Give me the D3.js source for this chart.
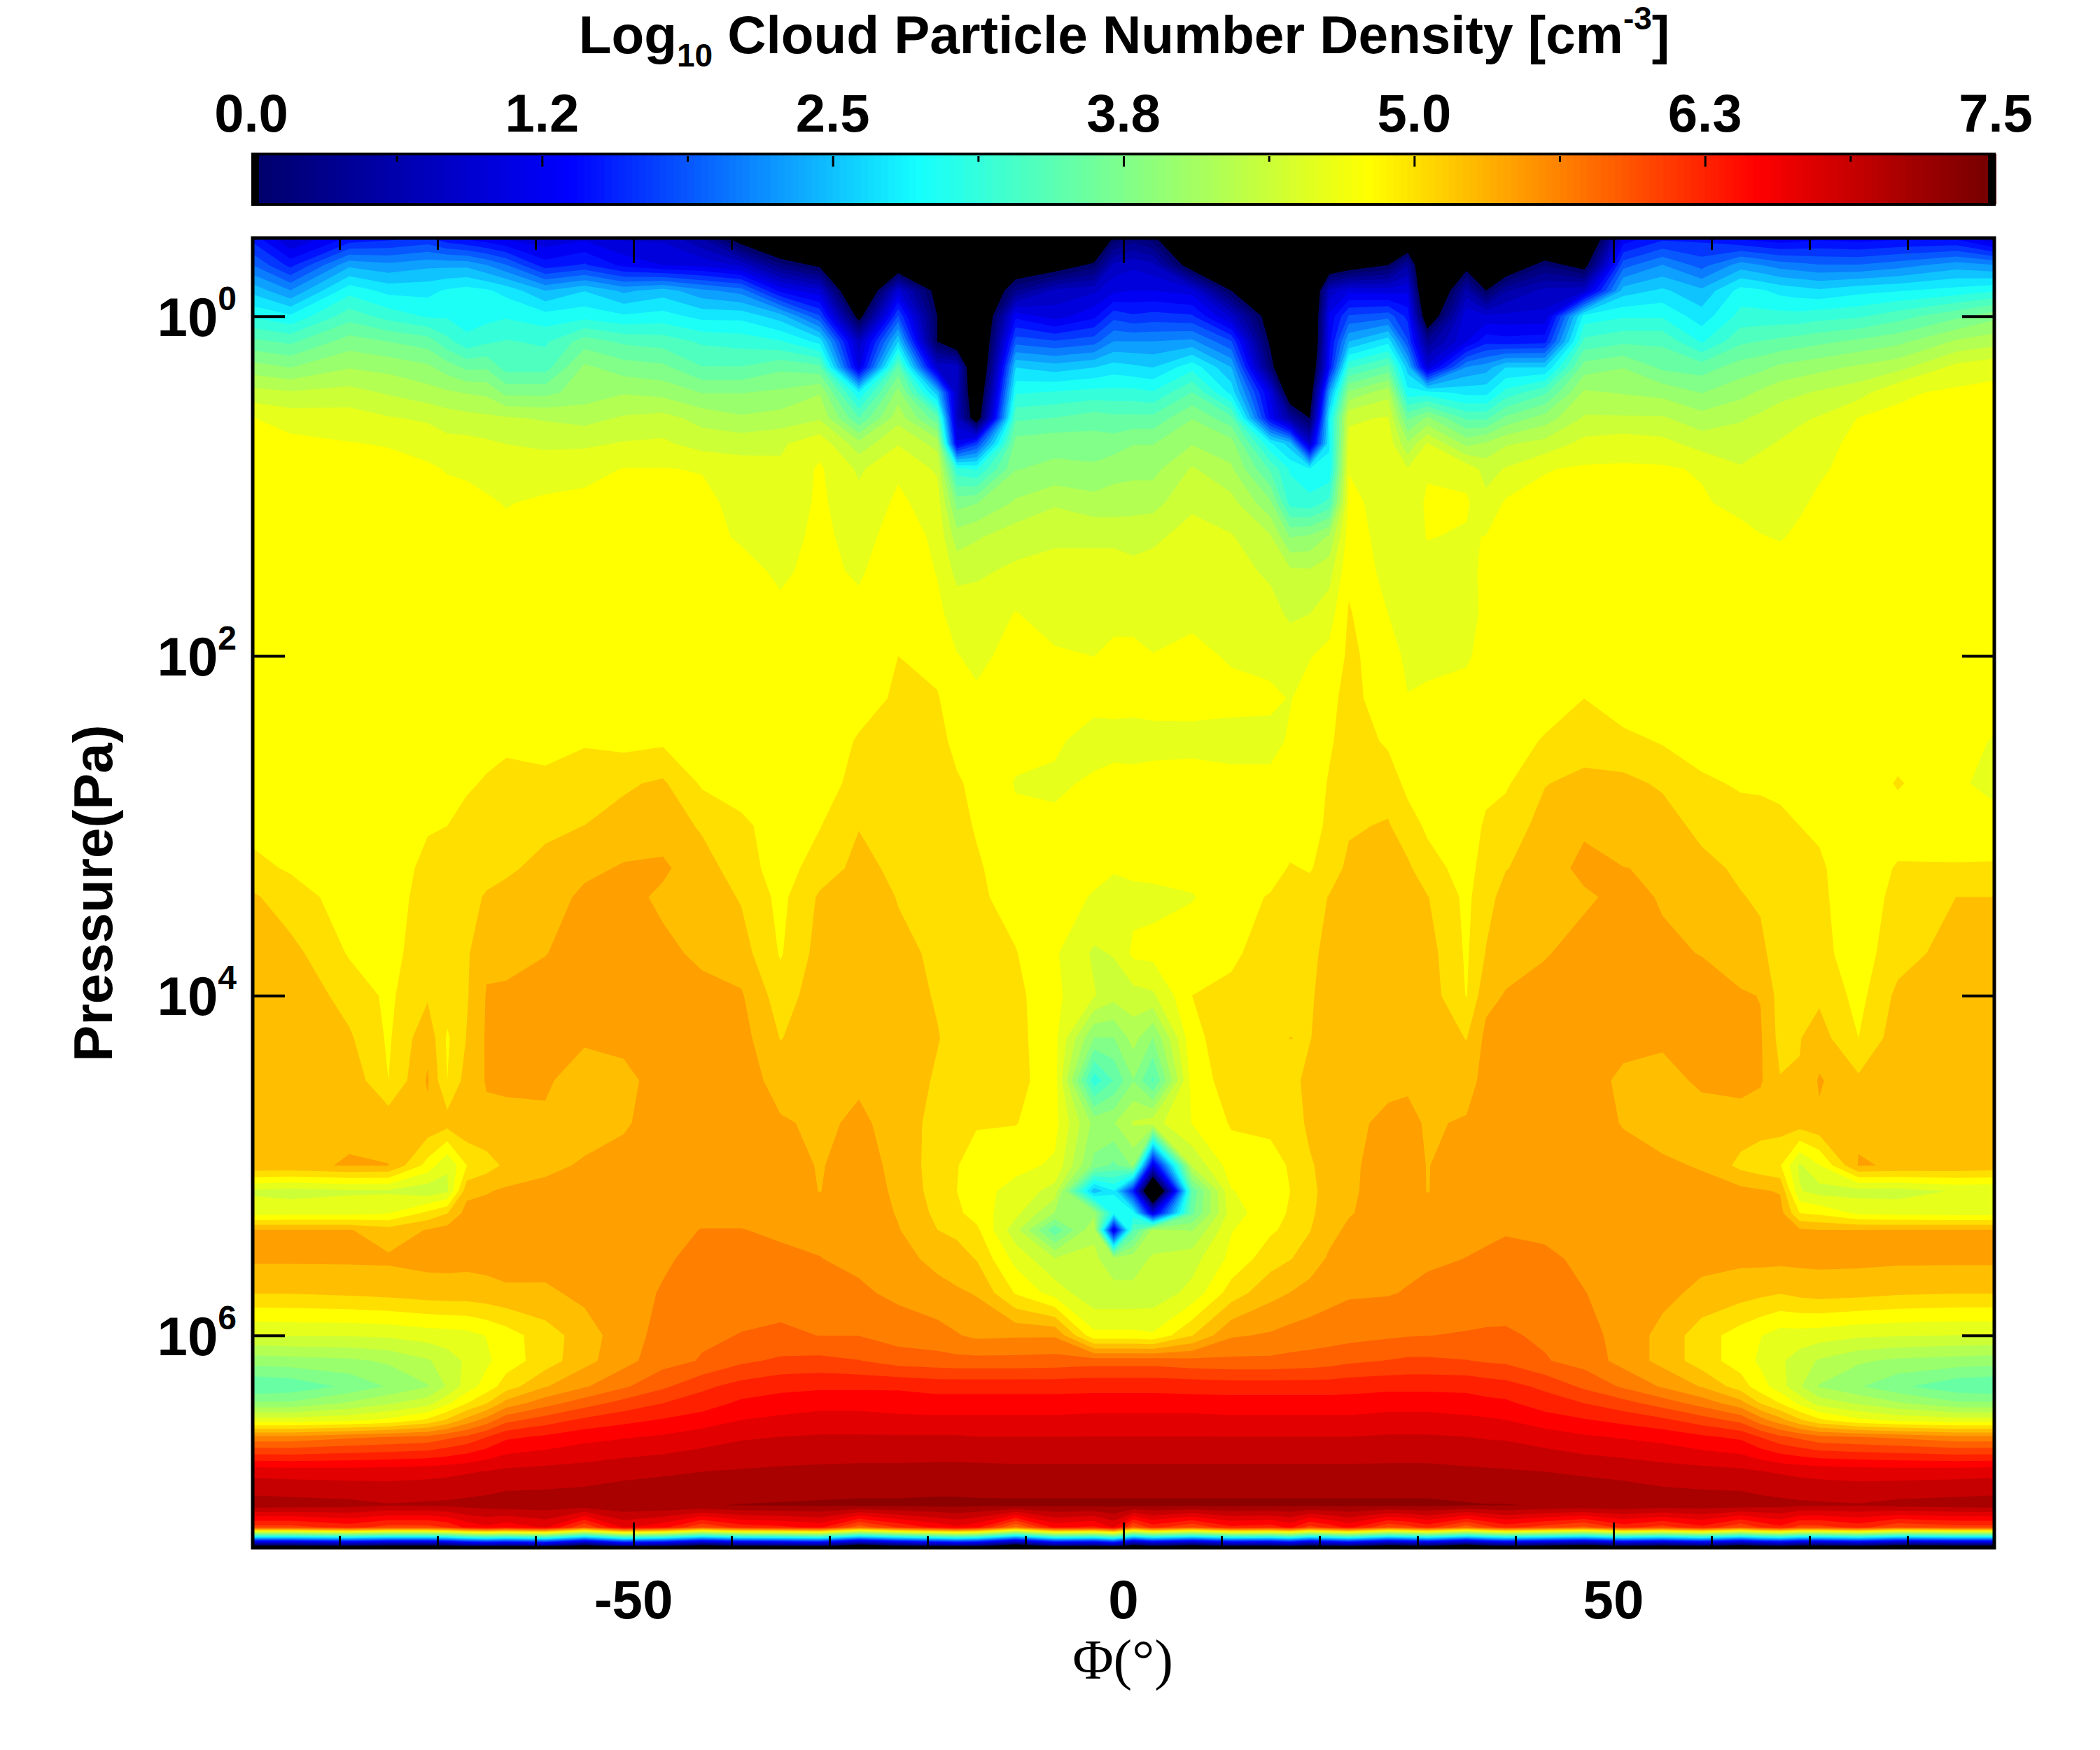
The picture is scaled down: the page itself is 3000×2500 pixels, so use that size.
<!DOCTYPE html>
<html>
<head>
<meta charset="utf-8">
<script src="https://cdn.jsdelivr.net/npm/d3@7"></script>
<style>
  body { margin: 0; background: #fff; }
  text { font-family: "Liberation Sans", sans-serif; font-weight: bold; fill: #000; }
</style>
</head>
<body>
<div id="visualization"></div>
<script>
// latitude of each column
let lats = [-89,-85,-79,-75,-71,-69,-67,-65,-63,-59,-55,-51,-47,-43,-39,-35,-31,-27,-23,-19,-17,-15,-11,-7,-3,-1,1,3,7,11,15,17,19,21,23,27,29,31,35,37,39,43,47,51,55,59,63,65,67,69,71,75,79,85,89]

// log10 pressure of each row, top to bottom
let logP = [-0.46,-0.3,-0.15,0,0.15,0.3,0.45,0.6,0.75,0.9,1.1,1.3,1.5,1.75,2,2.25,2.5,2.75,3,3.25,3.42,3.75,4,4.25,4.5,4.75,5,5.15,5.28,5.38,5.55,5.75,6,6.15,6.3,6.4,6.5,6.6,6.8,7,7.13,7.25]

// log10 number density, one line per latitude (negative = black, below the scale)
let density = [
[1.6,2.1,2.65,3.1,3.6,4.05,4.45,4.8,4.85,4.85,4.85,4.87,4.87,4.88,4.88,4.87,4.88,4.9,4.95,5.05,5.25,5.35,5.38,5.38,5.38,5.38,5.38,4.55,4.7,5.43,5.45,5.22,4.58,4.05,3.55,4,4.7,5.7,6.8,7.2,6.15,-0.8],
[1,1.6,2.3,2.95,3.5,3.95,4.4,4.7,4.85,4.85,4.85,4.86,4.86,4.87,4.87,4.87,4.88,4.88,4.92,4.98,5.08,5.28,5.38,5.38,5.38,5.38,5.38,4.5,4.72,5.43,5.45,5.22,4.6,4.08,3.6,4,4.7,5.7,6.78,7.18,6.15,-0.8],
[1.5,2.45,3.05,3.45,3.85,4.15,4.45,4.68,4.8,4.85,4.85,4.85,4.85,4.86,4.86,4.86,4.86,4.86,4.86,4.88,4.92,4.98,5.12,5.24,5.36,5.38,5.43,4.55,4.72,5.43,5.45,5.25,4.6,4.12,3.8,4.2,4.75,5.8,6.77,7.15,6.33,-0.62],
[1.6,2.35,2.85,3.25,3.75,4.1,4.35,4.6,4.78,4.85,4.85,4.85,4.85,4.85,4.85,4.85,4.86,4.86,4.87,4.88,4.92,4.94,4.96,4.97,5,5.35,5.42,4.55,4.78,5.3,5.45,5.28,4.62,4.2,3.98,4.35,4.85,5.85,6.78,7.1,6.15,-0.8],
[1.7,2.45,2.85,3.1,3.65,4,4.25,4.55,4.72,4.82,4.85,4.85,4.85,4.85,4.85,4.85,4.86,4.9,4.98,5.06,5.07,5.1,5.18,5.36,5.44,5.36,4.92,4.45,5.05,5.43,5.48,5.32,4.68,4.35,4.15,4.5,5.05,5.9,6.8,7.12,6.15,-0.8],
[1.5,2.45,2.95,3.1,3.4,3.85,4.2,4.48,4.65,4.78,4.85,4.85,4.85,4.85,4.85,4.85,4.87,4.92,5,5.1,5.12,5.12,5.1,4.97,5,5.3,4.6,4.55,5.2,5.5,5.48,5.33,4.7,4.48,4.4,4.75,5.25,6,6.82,7.13,6.26,-0.69],
[1.4,2.45,3,3,3.2,3.7,4.15,4.45,4.65,4.76,4.85,4.85,4.85,4.85,4.85,4.85,4.88,4.96,5.1,5.15,5.17,5.18,5.19,5.22,5.3,5.38,5,5.35,5.5,5.55,5.47,5.33,4.72,4.62,4.68,5,5.5,6.1,6.85,7.15,6.51,-0.44],
[1.3,2.3,2.95,3.05,3.3,3.72,4.12,4.42,4.62,4.72,4.82,4.85,4.85,4.85,4.85,4.86,4.9,5.03,5.12,5.17,5.22,5.38,5.43,5.44,5.43,5.38,5.12,5.4,5.5,5.56,5.48,5.35,4.8,4.75,4.88,5.2,5.72,6.25,6.88,7.17,6.62,-0.33],
[1.2,2.1,2.85,3.1,3.35,3.45,3.9,4.4,4.58,4.68,4.78,4.85,4.85,4.85,4.86,4.88,4.96,5.06,5.15,5.18,5.26,5.3,5.48,5.5,5.44,5.38,5.25,5.45,5.52,5.58,5.5,5.38,4.9,4.9,5.1,5.5,5.98,6.42,6.92,7.2,6.51,-0.44],
[1.1,1.55,2.5,3,3.3,3.45,3.9,4.35,4.55,4.68,4.83,4.85,4.85,4.85,4.86,4.87,4.93,5.05,5.17,5.26,5.3,5.41,5.5,5.52,5.45,5.38,5.35,5.5,5.55,5.58,5.52,5.37,5.12,5.1,5.4,5.75,6.15,6.5,6.95,7.2,6.69,-0.26],
[1.2,1.7,2.7,3.05,3.65,4,4.05,4.3,4.55,4.72,4.85,4.85,4.85,4.86,4.87,4.88,4.99,5.05,5.21,5.36,5.47,5.5,5.52,5.45,5.3,5.3,5.45,5.52,5.56,5.58,5.55,5.48,5.3,5.35,5.6,5.95,6.3,6.6,6.97,7.22,6.04,-0.91],
[1,1.4,2.45,2.95,3.5,3.85,4.15,4.4,4.6,4.8,4.85,4.85,4.85,4.85,4.85,4.88,4.93,5.18,5.28,5.44,5.48,5.52,5.52,5.5,5.33,5.38,5.52,5.55,5.57,5.59,5.58,5.55,5.55,5.55,5.8,6.12,6.4,6.65,7.02,7.25,6.69,-0.26],
[1,1.25,2.6,3,3.45,3.8,4.1,4.45,4.62,4.8,4.85,4.85,4.85,4.85,4.86,4.88,4.96,5.24,5.33,5.45,5.38,5.46,5.5,5.52,5.55,5.56,5.56,5.57,5.57,5.58,5.6,5.64,5.68,5.75,6,6.25,6.48,6.7,7.05,7.27,6.51,-0.44],
[0.6,1.2,2.35,2.85,3.3,3.55,3.95,4.3,4.5,4.78,4.85,4.85,4.85,4.85,4.85,4.86,4.87,4.97,5.18,5.3,5.33,5.38,5.47,5.52,5.55,5.56,5.56,5.57,5.58,5.63,5.68,5.74,5.8,5.85,6.2,6.36,6.56,6.78,7.08,7.28,6.04,-0.91],
[-0.3,1,2.2,2.85,3.25,3.55,3.95,4.2,4.5,4.68,4.72,4.77,4.85,4.85,4.85,4.85,4.85,4.87,5.06,5.1,5.19,5.3,5.44,5.5,5.53,5.55,5.56,5.57,5.58,5.63,5.7,5.76,5.84,6,6.33,6.5,6.67,6.85,7.1,7.3,6.33,-0.62],
[-1,0.3,1.4,2.6,3.15,3.7,4,4.25,4.55,4.62,4.65,4.7,4.76,4.83,4.87,4.85,4.85,4.85,4.87,4.9,4.94,4.98,5.1,5.2,5.33,5.44,5.52,5.55,5.58,5.6,5.66,5.75,5.87,6.08,6.4,6.55,6.72,6.88,7.12,7.31,6.4,-0.55],
[-1,-0.1,1.1,1.9,2.85,3.6,4.15,4.35,4.72,4.82,4.83,4.85,4.85,4.85,4.85,4.86,4.88,4.92,4.99,5.1,5.24,5.29,5.33,5.33,5.35,5.38,5.4,5.41,5.5,5.58,5.63,5.72,5.83,6.1,6.42,6.6,6.75,6.9,7.13,7.32,6.51,-0.44],
[-1,-1,-1,-0.2,0.9,1.2,2.95,3.55,4.25,4.55,4.65,4.7,4.76,4.85,4.95,4.92,5.02,5.06,5.2,5.27,5.32,5.35,5.37,5.38,5.39,5.45,5.52,5.55,5.56,5.56,5.58,5.66,5.83,6.05,6.42,6.6,6.75,6.9,7.14,7.33,5.9,-1.05],
[-1,-0.5,1.1,1.9,2.7,3.6,4.05,4.3,4.57,4.76,4.83,4.9,4.95,4.98,5,5.03,5.06,5.08,5.12,5.16,5.2,5.25,5.3,5.33,5.34,5.35,5.35,5.37,5.4,5.43,5.5,5.58,5.74,5.95,6.42,6.58,6.72,6.9,7.14,7.33,6.26,-0.69],
[-1,-1,-0.2,0,0,1,2.6,3.6,4.3,4.55,4.7,4.75,4.78,4.84,4.92,5.02,5.08,5.12,5.14,5.16,5.17,5.18,5.19,5.22,5.18,5.12,5.11,5.12,5.16,5.21,5.35,5.5,5.7,5.92,6.38,6.55,6.72,6.9,7.15,7.34,6.51,-0.44],
[-1,-1,-1,-1,-0.5,1,0.9,0.9,1.3,3.2,3.88,4.27,4.52,4.7,4.8,4.85,4.93,5.03,5.07,5.1,5.12,5.12,5.13,5.14,5.12,5.05,5.01,5,5.05,5.17,5.28,5.45,5.64,5.9,6.38,6.55,6.72,6.9,7.15,7.34,6.62,-0.33],
[-1,-1,-1,-1,-1,-1,-0.7,-0.4,1.8,3.1,3.95,4.35,4.55,4.68,4.75,4.82,4.85,4.94,4.98,5.03,5.04,5.03,5.03,5.02,5.01,5.02,4.9,4.87,4.9,5.05,5.2,5.4,5.58,5.9,6.38,6.55,6.72,6.88,7.15,7.33,6.51,-0.44],
[-1,-0.5,0.4,1.4,2,2.7,3.1,3.5,3.85,3.95,4.2,4.5,4.62,4.8,4.85,4.82,4.85,4.78,4.83,4.87,4.92,5.01,5.06,5.07,5.07,5.01,4.85,4.72,4.65,4.45,4.72,4.98,5.6,5.9,6.38,6.55,6.72,6.88,7.14,7.33,5.79,-1.16],
[-1,-0.3,0.9,1.15,1.9,2.6,3.15,3.55,3.9,4,4.35,4.55,4.65,4.7,4.82,4.85,4.82,4.76,4.83,4.85,4.85,4.82,4.84,4.85,4.88,4.86,4.76,4.5,4.15,3.6,4.4,4.7,5.6,5.92,6.38,6.55,6.72,6.88,7.14,7.33,6.51,-0.44],
[-1,0.1,1,1.4,2,2.7,3.2,3.65,3.85,4,4.25,4.55,4.65,4.72,4.79,4.85,4.72,4.82,4.85,4.83,4.78,4.55,4.6,3.95,3.2,4.1,3.9,2.55,4.1,4.35,4.4,4.42,4.85,5.95,6.4,6.55,6.75,6.88,7.14,7.33,6.4,-0.55],
[0.05,0.9,1.2,1.8,2.3,2.8,3.2,3.6,3.85,4.1,4.25,4.55,4.65,4.72,4.85,4.85,4.73,4.85,4.85,4.81,4.72,4.6,4.45,3.95,3.55,4.15,3.7,2.9,3,1.2,4.3,4.42,4.85,5.95,6.4,6.55,6.75,6.88,7.14,7.33,6.69,-0.26],
[0.3,1,1.25,1.7,2.3,2.75,3.2,3.6,3.95,4.1,4.3,4.5,4.65,4.72,4.85,4.85,4.72,4.85,4.86,4.85,4.72,4.84,4.5,4.25,3.95,4.4,4,1.6,3,3.5,4.3,4.42,4.85,5.95,6.4,6.55,6.75,6.88,7.14,7.33,5.97,-0.98],
[0.1,0.9,1.25,1.75,2.3,2.7,3.15,3.6,3.95,4.1,4.3,4.55,4.65,4.68,4.8,4.85,4.74,4.85,4.85,4.85,4.74,4.85,4.55,3.95,3.5,4.5,1.2,-1.5,1.2,4.25,4.4,4.45,4.82,5.95,6.4,6.55,6.75,6.88,7.14,7.33,6.33,-0.62],
[-1,-0.3,1.15,1.7,2.35,3.05,3.55,3.95,4.15,4.4,4.55,4.65,4.7,4.75,4.84,4.84,4.75,4.85,4.86,4.86,4.78,4.9,5,4.95,4.88,4.8,4.4,3.6,3.7,4.15,4.5,4.65,5.2,5.9,6.38,6.55,6.75,6.88,7.14,7.33,6.04,-0.91],
[-1,-1,0,1,1.9,2.5,2.85,3.6,4.05,4.2,4.45,4.6,4.65,4.73,4.77,4.85,4.72,4.85,4.87,4.88,4.9,4.96,5.05,5.1,5.1,5.02,4.9,4.78,4.7,4.78,4.85,5.1,5.6,5.88,6.36,6.55,6.72,6.88,7.14,7.33,6.4,-0.55],
[-1,-1,-1,-0.3,-0.1,0.2,1.2,1.4,2.95,3.5,4,4.4,4.55,4.65,4.72,4.84,4.72,4.85,4.86,4.9,5.02,5.1,5.15,5.18,5.18,5.05,4.92,4.9,4.92,4.97,5.12,5.35,5.65,5.88,6.36,6.55,6.72,6.88,7.14,7.33,6.33,-0.62],
[-1,-1,-1,-1,-1,-1,-0.5,0.6,2.6,3.1,3.25,3.95,4.42,4.55,4.7,4.78,4.82,4.87,4.88,5.02,5.06,5.12,5.16,5.21,5.15,5.08,5.02,5,5.02,5.05,5.2,5.42,5.7,5.9,6.36,6.55,6.72,6.88,7.14,7.33,6.51,-0.44],
[-1,-1,-1,-1,-1,-0.7,-0.4,0,1,2.95,3.2,4,4.4,4.58,4.78,4.88,4.88,4.88,4.88,4.98,5.1,5.15,5.18,5.2,5.26,5.26,5.18,5.16,5.18,5.2,5.3,5.5,5.72,5.92,6.36,6.55,6.72,6.88,7.14,7.33,6.15,-0.8],
[-1,-0.5,0.9,1.3,1.4,1.5,2.4,2.9,2.9,2.95,3.4,4.2,4.5,4.7,4.85,4.95,4.97,5.02,5.06,5.1,5.22,5.28,5.3,5.3,5.33,5.38,5.3,5.28,5.28,5.35,5.45,5.56,5.74,5.95,6.36,6.55,6.72,6.88,7.14,7.33,6.33,-0.62],
[-1,-0.3,1.2,1.9,2.5,3.3,4,4.55,4.65,4.78,4.85,4.9,4.95,5.02,5.04,5.06,5.1,5.13,5.18,5.26,5.28,5.32,5.33,5.34,5.36,5.38,5.38,5.38,5.4,5.46,5.54,5.6,5.76,6,6.38,6.55,6.72,6.88,7.14,7.33,6.51,-0.44],
[-1,0,1.15,2,2.85,3.6,4.3,4.6,4.72,4.75,4.7,4.7,4.72,4.79,4.9,4.9,4.97,5.1,5.23,5.28,5.32,5.35,5.36,5.37,5.38,5.45,5.5,5.52,5.52,5.5,5.56,5.61,5.8,6.05,6.4,6.58,6.75,6.9,7.14,7.33,6.04,-0.91],
[-0.7,0.6,1.2,1.6,1.9,2.6,3,3.7,4.2,4.6,4.68,4.7,4.7,4.72,4.74,4.8,4.86,4.95,5.08,5.25,5.3,5.33,5.35,5.36,5.38,5.48,5.5,5.52,5.53,5.54,5.57,5.64,5.82,6.08,6.4,6.58,6.75,6.9,7.14,7.33,6.15,-0.8],
[-1,-1,-1,-0.5,0.5,1.1,3,4,4.6,4.77,4.82,4.8,4.72,4.72,4.75,4.82,4.85,4.86,4.97,5.07,5.22,5.3,5.33,5.35,5.38,5.39,5.41,5.41,5.48,5.53,5.58,5.7,5.83,6.08,6.4,6.58,6.75,6.9,7.14,7.33,6.33,-0.62],
[-1,-0.2,0.7,1.2,1.25,2.3,2.85,3.5,4.1,4.72,4.82,4.77,4.72,4.7,4.77,4.85,4.88,4.9,4.9,4.93,4.95,4.97,4.99,5.2,5.32,5.44,5.5,5.52,5.54,5.56,5.63,5.7,5.85,6.05,6.4,6.55,6.72,6.88,7.12,7.31,5.9,-1.05],
[-1,-0.2,0,1.1,1.6,2.4,2.85,3.5,4.2,4.5,4.65,4.8,4.85,4.85,4.85,4.87,4.88,4.95,5.03,5.08,5.14,5.22,5.36,5.47,5.5,5.52,5.54,5.55,5.56,5.58,5.66,5.72,5.86,6.02,6.36,6.52,6.7,6.86,7.11,7.3,6.15,-0.8],
[-1,-0.5,0.6,1.1,1.55,2.7,3.2,3.8,4.35,4.6,4.82,4.85,4.85,4.85,4.85,4.87,4.9,4.97,5.1,5.2,5.28,5.34,5.43,5.5,5.52,5.54,5.55,5.56,5.57,5.61,5.68,5.74,5.86,6,6.33,6.5,6.67,6.85,7.1,7.3,6.33,-0.62],
[-1,0.2,0.9,1.1,1.6,2.7,3.5,4.05,4.45,4.78,4.85,4.85,4.85,4.86,4.86,4.9,5.02,5.2,5.28,5.3,5.33,5.4,5.5,5.52,5.54,5.55,5.55,5.56,5.58,5.59,5.66,5.72,5.8,5.85,6.2,6.36,6.56,6.78,7.08,7.28,6.15,-0.8],
[-1,-0.2,1,3,3.4,3.85,4.2,4.4,4.65,4.82,4.85,4.85,4.85,4.85,4.86,5,5.12,5.26,5.38,5.48,5.38,5.5,5.52,5.53,5.54,5.55,5.56,5.56,5.57,5.57,5.59,5.63,5.7,5.75,6,6.25,6.48,6.7,7.05,7.27,5.97,-0.98],
[1.3,2,2.6,3.1,3.5,3.95,4.15,4.4,4.7,4.82,4.85,4.85,4.85,4.85,4.86,4.87,5.06,5.26,5.32,5.42,5.48,5.5,5.52,5.5,5.36,5.4,5.52,5.53,5.54,5.55,5.56,5.56,5.55,5.55,5.8,6.12,6.4,6.65,7.02,7.25,6.33,-0.62],
[1.6,2.3,2.75,3.1,3.5,3.7,4.1,4.4,4.65,4.82,4.85,4.85,4.85,4.85,4.85,4.86,4.98,5.18,5.3,5.4,5.4,5.45,5.5,5.45,5.35,5.33,5.45,5.52,5.54,5.55,5.55,5.48,5.35,5.35,5.6,5.95,6.3,6.6,6.97,7.22,6.15,-0.8],
[1.6,2,2.55,2.8,3.1,3.65,3.95,4.25,4.5,4.77,4.82,4.85,4.85,4.85,4.85,4.85,4.92,5.03,5.15,5.27,5.31,5.41,5.5,5.52,5.45,5.33,5.4,5.48,5.52,5.55,5.48,5.36,5.1,5.1,5.4,5.75,6.15,6.5,6.95,7.2,6.4,-0.55],
[1.4,2.4,3,3.2,3.5,3.85,4.1,4.35,4.5,4.6,4.72,4.87,4.87,4.85,4.85,4.85,4.85,4.98,5.07,5.17,5.22,5.3,5.44,5.5,5.48,5.33,5.15,5.48,5.5,5.55,5.46,5.3,4.9,4.9,5.1,5.5,5.98,6.42,6.92,7.2,6.04,-0.91],
[1.35,2.3,2.95,3.2,3.55,3.9,4.2,4.42,4.55,4.65,4.72,4.8,4.87,4.86,4.85,4.85,4.85,4.98,5.05,5.12,5.18,5.26,5.41,5.44,5.44,5.3,5.08,5.44,5.5,5.55,5.47,5.26,4.8,4.75,4.88,5.2,5.72,6.25,6.88,7.17,6.26,-0.69],
[1.3,2.2,2.85,3.2,3.6,4,4.3,4.5,4.6,4.7,4.72,4.78,4.87,4.86,4.86,4.86,4.86,4.98,5.02,5.05,5.08,5.1,5.12,5.14,5.22,5.3,5.02,5.4,5.5,5.55,5.47,5.22,4.7,4.62,4.68,5,5.5,6.1,6.85,7.15,6.4,-0.55],
[1.35,2.15,2.8,3.2,3.65,4.05,4.35,4.55,4.66,4.74,4.77,4.82,4.86,4.85,4.85,4.85,4.85,4.9,5,5.04,5.06,5.08,5.14,5.2,5.22,5.32,4.55,4.6,5,5.45,5.47,5.27,4.7,4.48,4.4,4.75,5.25,6,6.82,7.13,6.15,-0.8],
[1.4,2.1,2.75,3.25,3.7,4.1,4.4,4.6,4.72,4.77,4.82,4.85,4.85,4.85,4.85,4.85,4.85,4.86,4.97,5.03,5.04,5.06,5.17,5.3,5.44,5.38,4.78,4.5,4.95,5.42,5.47,5.3,4.68,4.35,4.15,4.5,5.05,5.9,6.8,7.12,6.15,-0.8],
[1.35,2.1,2.85,3.3,3.8,4.2,4.5,4.8,4.85,4.85,4.85,4.85,4.85,4.85,4.85,4.85,4.85,4.85,4.86,4.87,4.88,4.9,4.93,5,5.25,5.38,5.43,4.5,4.75,5.42,5.47,5.28,4.62,4.2,3.98,4.35,4.85,5.85,6.78,7.1,6.33,-0.62],
[1.4,2.2,2.9,3.45,3.9,4.3,4.76,4.83,4.85,4.85,4.85,4.85,4.85,4.85,4.85,4.85,4.9,5.02,4.9,5.02,5.06,5.12,5.26,5.33,5.36,5.38,5.4,4.5,4.72,5.43,5.46,5.24,4.6,4.12,3.8,4.2,4.75,5.8,6.77,7.15,6.04,-0.91],
[1.4,2.4,3,3.7,4.2,4.65,4.83,4.85,4.85,4.85,4.85,4.85,4.86,4.86,4.86,4.86,4.84,4.84,4.88,5.02,5.21,5.3,5.35,5.37,5.38,5.38,5.38,4.6,4.7,5.43,5.46,5.22,4.58,4.08,3.6,4,4.7,5.7,6.78,7.18,6.15,-0.8],
[1,2.3,3.1,3.9,4.3,4.73,4.85,4.85,4.85,4.85,4.85,4.85,4.86,4.86,4.86,4.86,4.78,4.7,4.9,5.02,5.21,5.3,5.36,5.38,5.38,5.38,5.35,4.6,4.7,5.43,5.46,5.22,4.58,4.05,3.55,4,4.7,5.7,6.8,7.2,6.15,-0.8]
]

// tick values and labels
let xMajor = [-50, 0, 50]
let xMinor = [-80, -70, -60, -40, -30, -20, -10, 10, 20, 30, 40, 60, 70, 80]
let yTicks = [0, 2, 4, 6]
let barMajor = [0, 1.25, 2.5, 3.75, 5, 6.25, 7.5]
let barLabels = ["0.0", "1.2", "2.5", "3.8", "5.0", "6.3", "7.5"]
let barMinor = [0.625, 1.875, 3.125, 4.375, 5.625, 6.875]

// set the dimensions of the graph
var plot = {left: 359, right: 2851, top: 340, bottom: 2211}
var bar = {top: 220, bottom: 292}

var svg = d3.select("#visualization")
  .append("svg")
    .attr("width", 3000)
    .attr("height", 2500)

var x = d3.scaleLinear().domain([-89, 89]).range([plot.left, plot.right])
var y = d3.scaleLinear().domain([-0.46, 7.25]).range([plot.top, plot.bottom])
var barX = d3.scaleLinear().domain([0, 7.5]).range([plot.left, plot.right])

// 36 filled levels, jet like colour table
var levels = d3.range(36).map(k => k * 7.5 / 36)
var color = d3.scaleLinear()
    .domain([0, 1.35, 2.85, 4.79, 6.46, 7.5])
    .range(["#00006a", "#0000ff", "#14ffff", "#ffff00", "#ff0000", "#700000"])
    .clamp(true)

// grid index -> data coordinates, the grid is not evenly spaced
var colToLat = d3.scaleLinear().domain(d3.range(lats.length)).range(lats).clamp(true)
var rowToLog = d3.scaleLinear().domain(d3.range(logP.length)).range(logP).clamp(true)

density.forEach((col, i) => {
  if (col.length != logP.length) throw new Error("column " + lats[i] + " has " + col.length)
})
if (density.length != lats.length) throw new Error("columns " + density.length)

// d3.contours wants a flat array, row after row
var flat = []
logP.forEach((p, r) => lats.forEach((lat, c) => flat.push(density[c][r])))

var contours = d3.contours()
    .size([lats.length, logP.length])
    .thresholds(levels)(flat)

var path = d3.geoPath(d3.geoTransform({
  point: function(px, py) {
    this.stream.point(x(colToLat(px - 0.5)), y(rowToLog(py - 0.5)))
  }
}))

// black underneath, everything below the scale stays black
svg.append("rect")
    .attr("x", plot.left).attr("y", plot.top)
    .attr("width", plot.right - plot.left).attr("height", plot.bottom - plot.top)
    .attr("fill", "black")

svg.append("g")
  .selectAll("path")
  .data(contours)
  .join("path")
    .attr("d", path)
    .attr("fill", d => color(d.value))

// frame
svg.append("rect")
    .attr("x", plot.left + 2).attr("y", plot.top)
    .attr("width", plot.right - plot.left - 4).attr("height", plot.bottom - plot.top)
    .attr("fill", "none").attr("stroke", "black").attr("stroke-width", 5)

function styleAxis(g, width) {
  g.select(".domain").remove()
  g.selectAll("line").attr("stroke", "black").attr("stroke-width", width)
}

// x ticks point inwards on both sides
svg.append("g").attr("transform", `translate(0,${plot.bottom})`)
    .call(d3.axisTop(x).tickValues(xMajor).tickSize(36).tickFormat(""))
    .call(styleAxis, 3)
svg.append("g").attr("transform", `translate(0,${plot.bottom})`)
    .call(d3.axisTop(x).tickValues(xMinor).tickSize(17).tickFormat(""))
    .call(styleAxis, 3)
svg.append("g").attr("transform", `translate(0,${plot.top})`)
    .call(d3.axisBottom(x).tickValues(xMajor).tickSize(36).tickFormat(""))
    .call(styleAxis, 3)
svg.append("g").attr("transform", `translate(0,${plot.top})`)
    .call(d3.axisBottom(x).tickValues(xMinor).tickSize(17).tickFormat(""))
    .call(styleAxis, 3)

svg.append("g").attr("transform", `translate(${plot.left},0)`)
    .call(d3.axisRight(y).tickValues(yTicks).tickSize(48).tickFormat(""))
    .call(styleAxis, 4)
svg.append("g").attr("transform", `translate(${plot.right},0)`)
    .call(d3.axisLeft(y).tickValues(yTicks).tickSize(48).tickFormat(""))
    .call(styleAxis, 4)

// x labels
svg.selectAll(".xLabel")
  .data(xMajor)
  .join("text")
    .attr("class", "xLabel")
    .attr("x", d => x(d))
    .attr("y", 2312)
    .attr("text-anchor", "middle")
    .style("font-size", "78px")
    .text(d => d)

// y labels, 10 with the exponent raised
var yLabel = svg.selectAll(".yLabel")
  .data(yTicks)
  .join("text")
    .attr("class", "yLabel")
    .attr("x", 338)
    .attr("y", d => y(d) + 28)
    .attr("text-anchor", "end")
    .style("font-size", "78px")
yLabel.append("tspan").text("10")
yLabel.append("tspan")
    .attr("dy", -37)
    .style("font-size", "48px")
    .text(d => d)

svg.append("text")
    .attr("transform", "translate(160,1276) rotate(-90)")
    .attr("text-anchor", "middle")
    .style("font-size", "78px")
    .text("Pressure(Pa)")

svg.append("text")
    .attr("x", 1604)
    .attr("y", 2398)
    .attr("text-anchor", "middle")
    .style("font-family", "'Liberation Serif', serif")
    .style("font-weight", "normal")
    .style("font-size", "80px")
    .text("\u03A6(\u00B0)")

// colour bar
var barSteps = d3.range(0, 7.5, 7.5 / 252)
svg.append("g")
  .selectAll("rect")
  .data(barSteps)
  .join("rect")
    .attr("x", d => barX(d))
    .attr("y", bar.top)
    .attr("width", (plot.right - plot.left) / 252 + 1)
    .attr("height", bar.bottom - bar.top)
    .attr("fill", d => color(d))

svg.append("g").attr("transform", `translate(0,${bar.top + 3})`)
    .call(d3.axisBottom(barX).tickValues(barMajor.slice(1, -1)).tickSize(15).tickFormat(""))
    .call(styleAxis, 3)
svg.append("g").attr("transform", `translate(0,${bar.top + 3})`)
    .call(d3.axisBottom(barX).tickValues(barMinor).tickSize(8).tickFormat(""))
    .call(styleAxis, 3)

// bar frame is thicker on the sides than on top and bottom
svg.append("rect").attr("x", plot.left).attr("y", bar.top - 2)
    .attr("width", plot.right - plot.left).attr("height", 4)
svg.append("rect").attr("x", plot.left).attr("y", bar.bottom - 2)
    .attr("width", plot.right - plot.left).attr("height", 4)
svg.append("rect").attr("x", plot.left).attr("y", bar.top - 2)
    .attr("width", 11).attr("height", bar.bottom - bar.top + 4)
svg.append("rect").attr("x", plot.right - 11).attr("y", bar.top - 2)
    .attr("width", 11).attr("height", bar.bottom - bar.top + 4)

svg.selectAll(".barLabel")
  .data(barMajor)
  .join("text")
    .attr("class", "barLabel")
    .attr("x", d => barX(d))
    .attr("y", 188)
    .attr("text-anchor", "middle")
    .style("font-size", "76px")
    .text((d, i) => barLabels[i])

// title
var title = svg.append("text")
    .attr("x", 1606)
    .attr("y", 76)
    .attr("text-anchor", "middle")
    .style("font-size", "76.5px")
title.append("tspan").text("Log")
title.append("tspan").attr("dy", 19).style("font-size", "46px").text("10")
title.append("tspan").attr("dy", -19).text(" Cloud Particle Number Density [cm")
title.append("tspan").attr("dy", -34).style("font-size", "46px").text("-3")
title.append("tspan").attr("dy", 34).text("]")
</script>
</body>
</html>
